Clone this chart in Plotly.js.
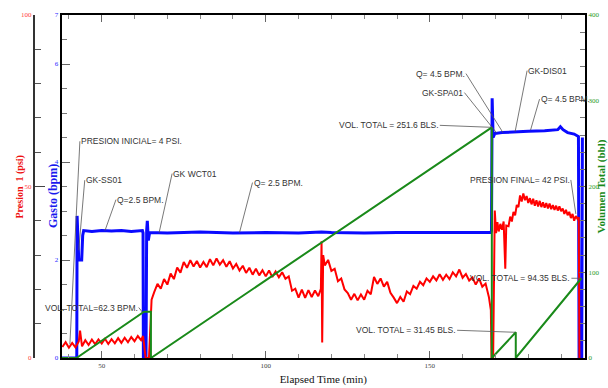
<!DOCTYPE html>
<html><head><meta charset="utf-8">
<script src="https://cdn.plot.ly/plotly-3.0.1.min.js"></script>
<style>html,body{margin:0;padding:0;background:#fff}#c{width:608px;height:388px}</style>
</head><body><div id="c"></div>
<script>
// ---- Presion 1 (psi) ----
const presTime = [38,39,40,41,42,43,43.4,44,45,46,47,48,49,50,51,52,53,54,55,56,57,58,59,60,61,62,62.6,63.0,63.4,64.4,
64.8,65.2,66,67,68,69,70,71,72,73,74,75,76,77,78,79,80,81,82,83,84,85,86,87,88,89,90,91,92,93,94,95,96,97,98,99,100,101,102,103,104,105,106,107,108,109,110,111,112,113,114,115,116,116.8,117.0,117.2,117.5,118,119,120,121,122,123,124,125,126,127,128,129,130,131,132,133,134,135,136,137,138,139,140,141,142,143,144,145,146,147,148,149,150,151,152,153,154,155,156,157,158,159,160,161,162,163,164,165,166,167,168,168.6,168.8,
169.3,169.5,169.8,170.2,170.6,171,171.5,172,172.5,173.0,173.3,174,174.5,175,175.5,176,176.5,177,177.5,178,178.5,179,179.5,180,180.5,181,181.5,182,182.5,183,183.5,184,184.5,185,185.5,186,186.5,187,187.5,188,188.5,189,189.5,190,190.5,191,191.5,192,192.5,193,193.5,194,194.5,195,195.4,195.6];
const presVal = [3.2,4.6,3.0,4.4,3.1,4.8,8.0,3.4,5.2,3.8,5.4,4.0,5.4,4.2,5.6,4.1,5.5,4.3,5.8,4.4,5.9,4.6,6.1,4.9,6.4,5.2,6.4,2.0,0,0,
10,17,19.2,21.6,20.2,23.0,21.4,24.6,23.0,26.4,24.9,28.0,26.3,28.5,26.7,28.3,26.4,28.0,26.5,28.8,27.0,29.0,27.2,28.5,26.6,28.2,26.1,27.4,25.5,26.9,24.8,26.3,24.3,26.0,24.1,25.6,23.8,25.5,23.6,25.2,23.5,25.0,23.1,23.8,19.6,20.2,17.6,19.9,17.5,19.8,17.8,19.7,18.0,20.2,34.0,4.5,30.0,27.0,28.6,25.4,26.0,22.4,23.2,20.0,18.9,17.0,18.7,16.8,18.5,17.0,19.6,18.6,23.6,21.6,23.2,20.8,22.2,19.0,17.6,16.0,17.8,16.4,19.4,18.6,21.0,20.2,22.2,21.2,23.2,22.2,23.8,22.6,24.4,22.8,24.3,23.0,25.0,23.8,25.8,23.4,24.5,22.6,23.5,21.4,23.2,20.8,21.7,17.8,14.0,0,
0,30,43.0,36.4,39.6,36.9,39.1,37.4,39.8,26.0,38.6,38.4,41.2,39.8,42.6,41.6,44.6,44.0,47.4,45.6,48.0,46.0,47.2,45.2,46.6,44.8,46.4,44.4,46.0,44.2,45.8,44.0,45.4,43.8,45.2,43.6,45.0,43.4,44.6,43.2,44.4,43.0,44.2,42.8,43.6,42.0,43.2,41.6,42.6,40.8,42.0,40.0,41.4,40.6,41.0,0];

// ---- Gasto (bpm) ----
const gastoTime = [37.8,42.4,42.5,42.7,43.0,43.9,44.2,44.5,47,50,53,56,59,62.4,62.6,62.7,63.5,63.7,63.9,64.2,64.6,70,80,90,100,110,117,120,130,140,150,160,168.6,168.8,169.0,169.3,169.8,172,176,180,185,189,189.8,190.6,192,194,195.3,195.5,196.3,196.5];
const gastoVal  = [0,0,2.9,2.3,2.0,2.0,2.5,2.6,2.58,2.6,2.59,2.6,2.58,2.6,2.55,0,0,2.6,2.8,2.4,2.56,2.55,2.57,2.55,2.56,2.55,2.57,2.56,2.55,2.56,2.56,2.57,2.56,2.6,5.3,4.5,4.58,4.6,4.62,4.63,4.64,4.66,4.72,4.66,4.6,4.57,4.52,0,0,4.5];

// ---- Volumen Total (bbl) ----
const volTime = [37.8,42.3,62.9,65.0,65.0,168.9,168.9,176.2,176.2,196.2];
const volVal  = [0,0,54,54,0,269,0,30,0,93];

// ---- Axis ticks ----
const xTicks = [50,100,150];
const gastoTicks = [0,2,4,6,7];
const presTicks = [0,50,100];
const volTicks = [0,100,200,300,400];

const traces = [
  {x: presTime, y: presVal, yaxis:'y2', type:'scatter', mode:'lines', line:{color:'#ff0000', width:2}, hoverinfo:'skip'},
  {x: gastoTime, y: gastoVal, yaxis:'y', type:'scatter', mode:'lines', line:{color:'#0a0aff', width:3}, hoverinfo:'skip'},
  {x: volTime, y: volVal, yaxis:'y3', type:'scatter', mode:'lines', line:{color:'#1a8a1a', width:2}, hoverinfo:'skip'}
];

const annFont = {family:'Liberation Sans Narrow, Arial Narrow, Liberation Sans, sans-serif', size:8.5, color:'#333'};
function ann(text, x, y, yref, ax, ay, xanchor){
  return {text:text, x:x, y:y, xref:'x', yref:yref, ax:ax, ay:ay, xanchor:xanchor, yanchor:'middle',
    showarrow:true, arrowhead:0, arrowwidth:0.8, arrowcolor:'#555', font:annFont, standoff:0, startstandoff:0, borderpad:0};
}

const layout = {
  width:608, height:388,
  margin:{l:10, r:10, t:15, b:30},
  paper_bgcolor:'#fff', plot_bgcolor:'#fff',
  showlegend:false,
  xaxis:{domain:[0.0879,0.9779], range:[37.8,197.3], tickmode:'array', tickvals:xTicks,
    ticks:'inside', ticklen:7, tickwidth:1, tickcolor:'#666',
    minor:{dtick:10, tick0:0, ticks:'inside', ticklen:4, tickcolor:'#888'},
    showline:true, linewidth:2, linecolor:'#000', mirror:'ticks', showgrid:false, zeroline:false,
    tickfont:{family:'Liberation Serif, serif', size:7, color:'#444'},
    title:{text:'Elapsed Time (min)', font:{family:'Liberation Serif, serif', size:11, color:'#111'}, standoff:6}},
  yaxis:{anchor:'x', side:'left', range:[0,7], tickmode:'array', tickvals:gastoTicks,
    ticks:'inside', ticklen:8, tickcolor:'#666',
    minor:{dtick:0.5, tick0:0, ticks:'inside', ticklen:5, tickcolor:'#777'},
    showline:true, linewidth:2, linecolor:'#000', showgrid:false, zeroline:false,
    tickfont:{family:'Liberation Serif, serif', size:7, color:'#2a2aff'}},
  yaxis2:{overlaying:'y', anchor:'free', position:0.0408, side:'left', range:[0,100], tickmode:'array', tickvals:presTicks,
    ticks:'inside', ticklen:10, tickcolor:'#444',
    minor:{dtick:10, tick0:0, ticks:'inside', ticklen:6, tickcolor:'#555'},
    showline:true, linewidth:2, linecolor:'#333', showgrid:false, zeroline:false,
    tickfont:{family:'Liberation Serif, serif', size:7, color:'#ff4040'}},
  yaxis3:{overlaying:'y', anchor:'x', side:'right', range:[0,400], tickmode:'array', tickvals:volTicks,
    ticks:'inside', ticklen:6, tickcolor:'#666',
    minor:{dtick:20, tick0:0, ticks:'inside', ticklen:5, tickcolor:'#777'},
    showline:true, linewidth:2, linecolor:'#000', showgrid:false, zeroline:false,
    tickfont:{family:'Liberation Serif, serif', size:7, color:'#2a9a2a'},
    title:{text:'Volumen Total (bbl)', font:{family:'Liberation Serif, serif', size:11, color:'#1a8a1a', weight:'bold'}, standoff:2}},
  annotations:[
    {text:'Presion  1 (psi)', xref:'paper', yref:'paper', x:0.017, y:0.5, textangle:-90, showarrow:false,
      xanchor:'center', yanchor:'middle', font:{family:'Liberation Serif, serif', size:10, color:'#ee1111', weight:'bold'}},
    {text:'Gasto (bpm)', xref:'paper', yref:'paper', x:0.0731, y:0.472, textangle:-90, showarrow:false,
      xanchor:'center', yanchor:'middle', font:{family:'Liberation Serif, serif', size:12, color:'#1a1aee', weight:'bold'}},
    ann('PRESION INICIAL= 4 PSI.', 40.3, 4, 'y2', 10, -203, 'left'),
    ann('GK-SS01', 43.0, 2.2, 'y', 6, -70, 'left'),
    ann('Q=2.5 BPM.', 51, 2.6, 'y', 11, -31, 'left'),
    ann('GK WCT01', 67.5, 2.56, 'y', 13, -59, 'left'),
    ann('Q= 2.5 BPM.', 92, 2.56, 'y', 13, -50, 'left'),
    ann('VOL. TOTAL=62.3 BPM.', 62.5, 53, 'y3', -4, -5, 'right'),
    ann('VOL. TOTAL = 251.6 BLS.', 168.9, 269, 'y3', -52, -2, 'right'),
    ann('Q= 4.5 BPM.', 172.3, 4.6, 'y', -37, -59, 'right'),
    ann('GK-SPA01', 170.3, 4.6, 'y', -32, -40, 'right'),
    ann('GK-DIS01', 176, 4.62, 'y', 12, -61, 'left'),
    ann('Q= 4.5 BPM.', 180.7, 4.65, 'y', 9, -31, 'left'),
    ann('PRESION FINAL= 42 PSI.', 194.5, 42, 'y2', -5, -34, 'right'),
    ann('VOL. TOTAL = 94.35 BLS.', 196.2, 93, 'y3', -10, 0, 'right'),
    ann('VOL. TOTAL = 31.45 BLS.', 176.0, 30, 'y3', -58, -2, 'right')
  ]
};
Plotly.newPlot('c', traces, layout, {displayModeBar:false, staticPlot:true});
</script></body></html>
